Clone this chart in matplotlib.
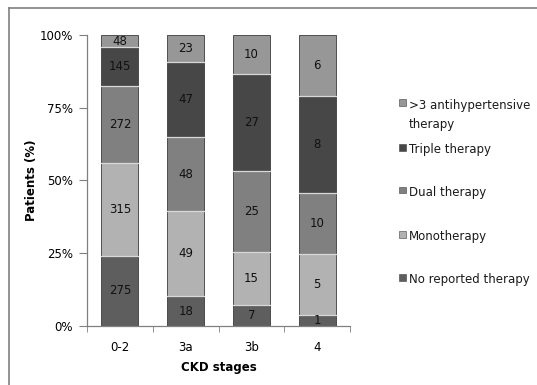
import numpy as np
import matplotlib
matplotlib.use('Agg')
import matplotlib.pyplot as plt
from matplotlib.lines import Line2D
from matplotlib.patches import Rectangle

# ---- Data ----
stages = ['0-2', '3a', '3b', '4']
series_names = ['No reported therapy', 'Monotherapy', 'Dual therapy',
                'Triple therapy', '>3 antihypertensive therapy']

# patient counts (segment labels)
no_therapy = [275, 18, 7, 1]
mono = [315, 49, 15, 5]
dual = [272, 48, 25, 10]
triple = [145, 47, 27, 8]
more_than3 = [48, 23, 10, 6]

# segment heights in % as drawn in the chart
no_therapy_pct = [24.1, 10.3, 7.1, 3.8]
mono_pct = [32.0, 29.3, 18.4, 20.8]
dual_pct = [26.5, 25.2, 27.8, 21.2]
triple_pct = [13.2, 26.0, 33.3, 33.2]
more_than3_pct = [4.2, 9.2, 13.4, 21.0]

colors = ['#5e5e5e', '#b2b2b2', '#808080', '#474747', '#979797']
legend_labels = ['>3 antihypertensive\ntherapy', 'Triple therapy', 'Dual therapy',
                 'Monotherapy', 'No reported therapy']

counts = [no_therapy, mono, dual, triple, more_than3]
pct = np.array([no_therapy_pct, mono_pct, dual_pct, triple_pct, more_than3_pct])
pct = pct / pct.sum(axis=0) * 100

plt.rcParams['font.family'] = ['DejaVu Sans']

fig = plt.figure(figsize=(5.37, 3.85), dpi=100)
ax = fig.add_axes([87 / 537, 1 - 326 / 385, 263 / 537, 291 / 385])

x = np.arange(len(stages))
bottom = np.zeros(len(stages))
for i in range(len(series_names)):
    ax.bar(x, pct[i], bottom=bottom, width=0.56, color=colors[i],
           edgecolor='#3c3c3c', linewidth=0.6, zorder=2)
    for j in range(len(stages)):
        top = bottom[j] + pct[i][j]
        # light separator between segments
        if i < len(series_names) - 1:
            ax.plot([x[j] - 0.28, x[j] + 0.28], [top, top], color='#d8d8d8',
                    linewidth=0.9, zorder=3)
        ax.text(x[j], bottom[j] + pct[i][j] / 2, f'{counts[i][j]}',
                ha='center', va='center', fontsize=8.5, color='#111111', zorder=4)
    bottom += pct[i]

ax.set_xlim(-0.5, len(stages) - 0.5)
ax.set_ylim(0, 100)
ax.set_yticks([0, 25, 50, 75, 100])
ax.set_yticklabels(['0%', '25%', '50%', '75%', '100%'], fontsize=8.5)
ax.set_xticks(x)
ax.set_xticklabels(stages, fontsize=8.5)
ax.tick_params(axis='x', length=0, pad=11)
ax.tick_params(axis='y', length=6, color='#808080', direction='out', pad=4)
# category boundary ticks on the x axis
ax.set_xticks(np.arange(-0.5, len(stages)), minor=True)
ax.tick_params(axis='x', which='minor', length=4, color='#808080', direction='out')

for side in ['top', 'right']:
    ax.spines[side].set_visible(False)
for side in ['left', 'bottom']:
    ax.spines[side].set_color('#808080')
    ax.spines[side].set_linewidth(0.9)

ax.set_ylabel('Patients (%)', fontsize=8.5, fontweight='bold', labelpad=1)
ax.set_xlabel('CKD stages', fontsize=8.5, fontweight='bold', labelpad=5)

# ---- Legend (drawn by hand, reversed order) ----
legend_colors = colors[::-1]
legend_y = [103, 147, 190, 234, 277]
for lab, col, ly in zip(legend_labels, legend_colors, legend_y):
    fy = 1 - ly / 385
    fig.patches.append(Rectangle((399 / 537, fy - 3.5 / 385), 7 / 537, 7 / 385,
                                 transform=fig.transFigure, facecolor=col,
                                 edgecolor='#404040', linewidth=0.4))
    fig.text(409 / 537, fy + 4 / 385, lab, fontsize=8.5, color='#1a1a1a',
             ha='left', va='top', linespacing=1.6)

# ---- Outer frame (left and top only) ----
fig.add_artist(Line2D([9 / 537, 9 / 537], [0, 1 - 8 / 385],
                      transform=fig.transFigure, color='#808080', linewidth=1.2))
fig.add_artist(Line2D([9 / 537, 1], [1 - 8 / 385, 1 - 8 / 385],
                      transform=fig.transFigure, color='#808080', linewidth=1.2))

fig.savefig('out.png', dpi=100)
